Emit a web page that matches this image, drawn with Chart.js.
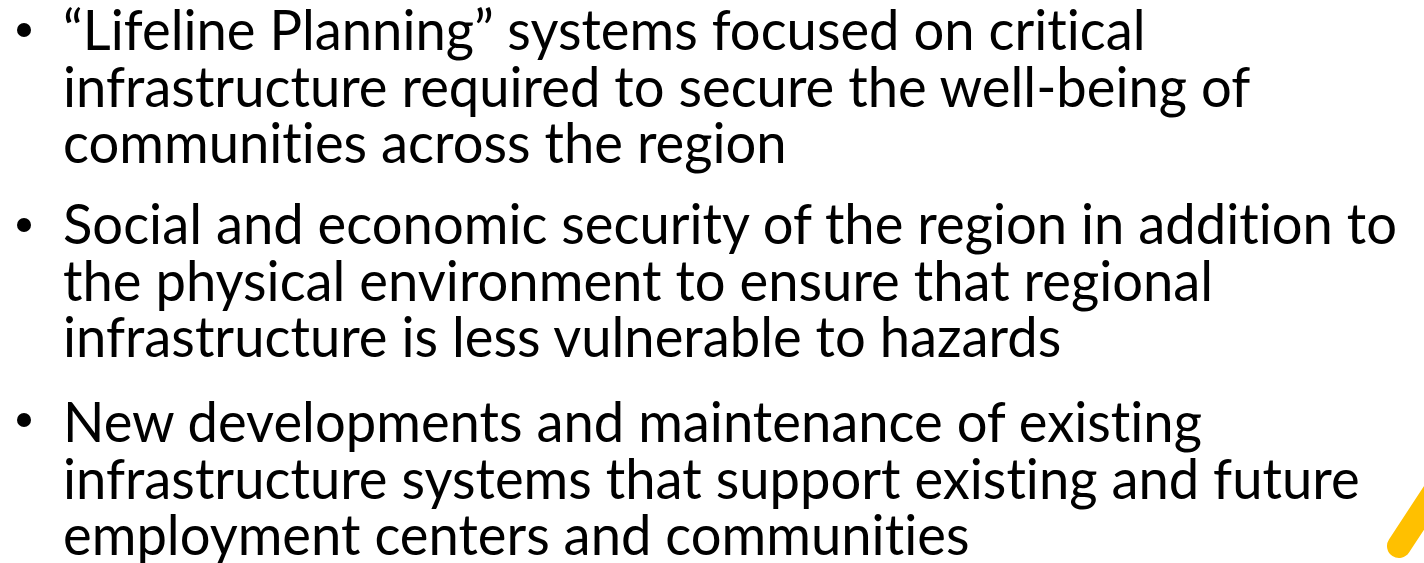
<!DOCTYPE html>
<html>
<head>
<meta charset="utf-8">
<script src="https://cdn.jsdelivr.net/npm/chart.js@4.4.0/dist/chart.umd.min.js"></script>
<style>
  html, body { margin: 0; padding: 0; background: #fff; overflow: hidden; }
  #pagina { position: relative; width: 1424px; height: 563px; }
  #decor { position: absolute; left: 0; top: 0; width: 1424px; height: 563px; }
  .punt { position: absolute; left: 63px; font-family: Lato, sans-serif; font-size: 57px;
          line-height: 56.5px; color: #000; transform-origin: 0 0; white-space: nowrap;
          font-variant-ligatures: none; font-feature-settings: "liga" 0, "clig" 0; }
  .bala { position: absolute; left: 17px; width: 14px; height: 14px; border-radius: 50%; background: #000; }
</style>
</head>
<body>
<div id="pagina">
  <canvas id="decor" width="1424" height="563"></canvas>
</div>
<script>
// text de les vinyetes, una fila per línia
const vinyetes = [
    ['“Lifeline Planning” systems focused on critical',
     'infrastructure required to secure the well-being of',
     'communities across the region'],
    ['Social and economic security of the region in addition to',
     'the physical environment to ensure that regional',
     'infrastructure is less vulnerable to hazards'],
    ['New developments and maintenance of existing',
     'infrastructure systems that support existing and future',
     'employment centers and communities']
];

// traç groc de la cantonada (punts del segment)
const tracX = [1399, 1445];
const tracY = [546, 476];

function pintarText() {
    const pagina = document.getElementById('pagina');
    const dalt = [0, 194, 392];
    const centreBala = [30, 225, 420];
    const blocs = [];
    let mesLlarga = null;
    vinyetes.forEach((linies, i) => {
        const punt = document.createElement('div');
        punt.className = 'punt';
        punt.style.top = dalt[i] + 'px';
        linies.forEach(l => {
            const fila = document.createElement('div');
            const s = document.createElement('span');
            s.textContent = l;
            fila.appendChild(s);
            punt.appendChild(fila);
            if (l.startsWith('Social')) mesLlarga = s;
        });
        pagina.appendChild(punt);
        blocs.push(punt);
        const bala = document.createElement('div');
        bala.className = 'bala';
        bala.style.top = (centreBala[i] - 7) + 'px';
        pagina.appendChild(bala);
    });
    const escala = 1334 / mesLlarga.getBoundingClientRect().width;
    blocs.forEach(b => { b.style.transform = 'scaleX(' + escala + ')'; });
}

function pintarTrac() {
    const ctx = document.getElementById('decor').getContext('2d');
    new Chart(ctx, {
        type: 'scatter',
        data: {
            datasets: [{
                data: tracX.map((x, i) => ({ x: x, y: tracY[i] })),
                showLine: true,
                borderColor: '#FFC000',
                borderWidth: 24,
                borderCapStyle: 'round',
                pointRadius: 0
            }]
        },
        options: {
            responsive: false,
            animation: false,
            layout: { padding: 0 },
            scales: {
                x: { type: 'linear', min: 0, max: 1424, display: false },
                y: { type: 'linear', min: 0, max: 563, reverse: true, display: false }
            },
            plugins: { legend: { display: false }, tooltip: { enabled: false } }
        }
    });
}

window.addEventListener('DOMContentLoaded', () => {
    pintarText();
    pintarTrac();
});
</script>
</body>
</html>
